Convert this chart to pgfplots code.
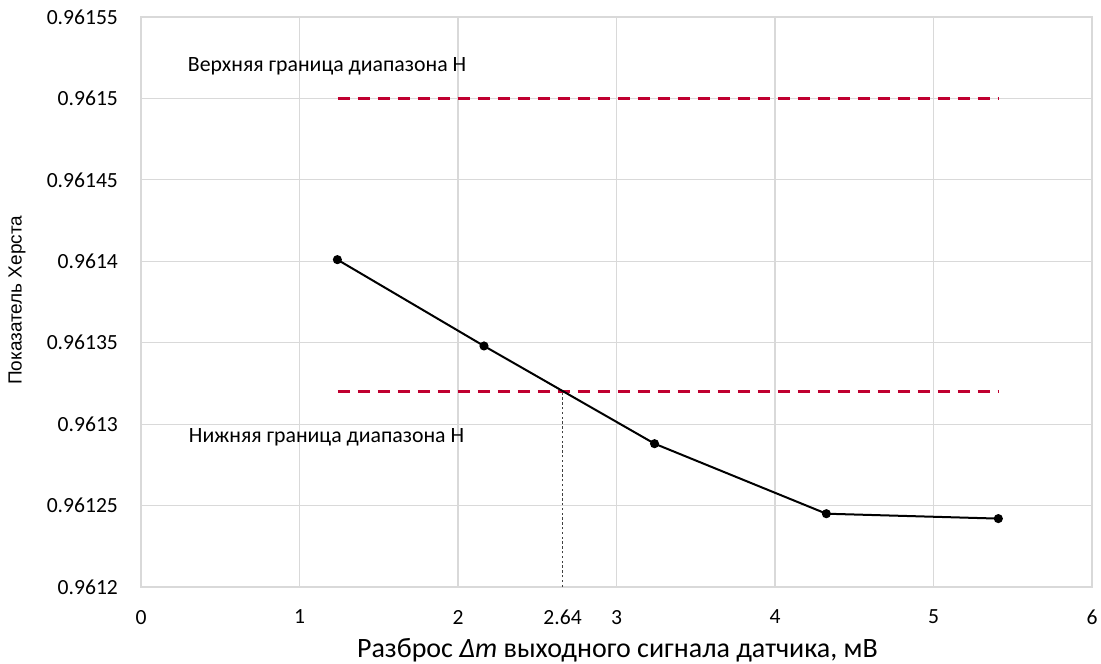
\documentclass[border=0pt]{standalone}
\usepackage{fontspec}
\setmainfont{Carlito}
\newfontfamily\arialf{Liberation Sans}
\usepackage{pgfplots}
\pgfplotsset{compat=1.18}
\definecolor{dred}{RGB}{192,0,48}
\definecolor{gridc}{RGB}{217,217,217}
\begin{document}
\begin{tikzpicture}
\path[use as bounding box] (-70.5pt,-38pt) rectangle (480pt,293.5pt);
\begin{axis}[
  at={(0,0)}, anchor=south west,
  scale only axis, width=475.5pt, height=285pt,
  xmin=0, xmax=6, ymin=0.9612, ymax=0.96155,
  xtick={0,1,2,3,4,5,6},
  extra x ticks={2.66}, extra x tick labels={2.64},
  extra x tick style={grid=none},
  ytick={0.9612,0.96125,0.9613,0.96135,0.9614,0.96145,0.9615,0.96155},
  yticklabels={0.9612,0.96125,0.9613,0.96135,0.9614,0.96145,0.9615,0.96155},
  /pgf/number format/assume math mode=true,
  grid=major, grid style={gridc, line width=0.6pt},
  axis line style={gridc, line width=0.8pt},
  major tick length=0pt,
  tick label style={font=\fontsize{10.8}{13}\selectfont, black},
  xticklabel style={yshift=-8pt},
  yticklabel style={xshift=-8pt},
  xlabel={Разброс \textit{Δm} выходного сигнала датчика, мВ},
  xlabel style={font=\fontsize{14}{16}\selectfont, at={(axis description cs:0.501,-0.1228)}, anchor=base},
  ylabel={\arialf Показатель Херста},
  ylabel style={font=\fontsize{9.5}{11}\selectfont, at={(axis description cs:-0.1304,0.503)}, anchor=center},
  clip=false,
]
\addplot[dred, line width=1.5pt, dash pattern=on 6pt off 4pt] coordinates {(1.24,0.9615) (5.41,0.9615)};
\addplot[dred, line width=1.5pt, dash pattern=on 6pt off 4pt] coordinates {(1.24,0.96132) (5.41,0.96132)};
\addplot[black!75, line width=0.5pt, dash pattern=on 1.2pt off 1.2pt] coordinates {(2.66,0.9612) (2.66,0.96132)};
\addplot[black, line width=1pt, mark=*, mark size=1.75pt] coordinates {
  (1.239,0.961401) (2.164,0.961348) (3.24,0.961288) (4.324,0.961245) (5.409,0.961242)};
\node[anchor=west, font=\fontsize{10.9}{13}\selectfont, inner sep=0pt] at (axis cs:0.294,0.96152) {Верхняя граница диапазона Н};
\node[anchor=west, font=\fontsize{10.9}{13}\selectfont, inner sep=0pt] at (axis cs:0.30,0.961292) {Нижняя граница диапазона Н};
\end{axis}
\end{tikzpicture}
\end{document}
